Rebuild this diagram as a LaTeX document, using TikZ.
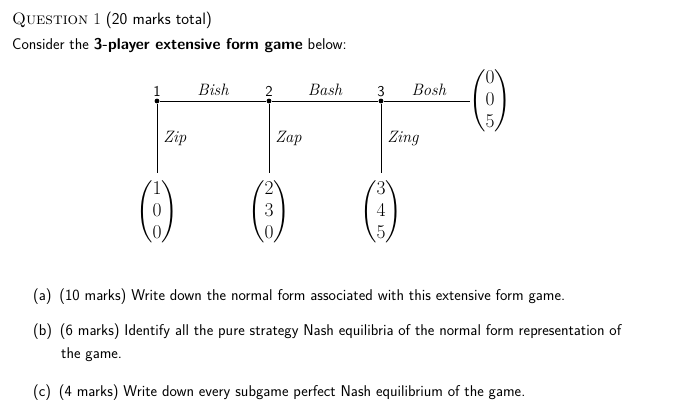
\RequirePackage{fix-cm}
\documentclass[tikz,border=0pt]{standalone}
\usepackage{amsmath}
\begin{document}
\begin{tikzpicture}[x=1pt,y=-1pt,
  dot/.style={circle,fill,inner sep=1.7pt},
  br/.style={font=\sffamily\fontsize{15}{17}\selectfont,inner sep=0pt},
  pay/.style={font=\fontsize{19.5}{22}\selectfont,inner sep=0pt},
  lab/.style={font=\fontsize{16.5}{18}\selectfont\itshape,inner sep=0pt},
  txt/.style={font=\sffamily\fontsize{15.6}{18}\selectfont,anchor=base west,inner sep=0pt}]
\useasboundingbox (0,0) rectangle (675,413);
\node[anchor=base west,inner sep=0pt,font=\fontsize{16.5}{18}\selectfont] (q) at (12,24) {\textsc{Question} 1 {\sffamily (20 marks total)}};
\node[txt] (c) at (12,49) {Consider the \textbf{3-player extensive form game} below:};
\node[dot] (n1) at (157,101) {};
\node[dot] (n2) at (269,101) {};
\node[dot] (n3) at (381,101) {};
\coordinate (e) at (470,101);
\node[br,above=4pt] at (n1) {1};
\node[br,above=4pt] at (n2) {2};
\node[br,above=4pt] at (n3) {3};
\node[pay] (p1) at (157,212) {$\begin{pmatrix}1\\0\\0\end{pmatrix}$};
\node[pay] (p2) at (269,212) {$\begin{pmatrix}2\\3\\0\end{pmatrix}$};
\node[pay] (p3) at (381,212) {$\begin{pmatrix}3\\4\\5\end{pmatrix}$};
\node[pay] (p4) at (490,101) {$\begin{pmatrix}0\\0\\5\end{pmatrix}$};
\draw[semithick] (n1) -- node[lab,above=5pt]{Bish} (n2) -- node[lab,above=5pt]{Bash} (n3) -- node[lab,above=5pt,xshift=2pt]{Bosh} (e);
\draw[semithick] (n1) -- node[lab,right=6pt]{Zip} (157,173);
\draw[semithick] (n2) -- node[lab,right=6pt]{Zap} (269,173);
\draw[semithick] (n3) -- node[lab,right=6pt]{Zing} (381,173);
\node[txt] (a) at (33,300) {(a)\hspace{0.5em}(10 marks) Write down the normal form associated with this extensive form game.};
\node[txt] (b) at (33,335) {(b)\hspace{0.5em}(6 marks) Identify all the pure strategy Nash equilibria of the normal form representation of};
\node[txt] (b2) at (61,358) {the game.};
\node[txt] (cc) at (33,396) {(c)\hspace{0.5em}(4 marks) Write down every subgame perfect Nash equilibrium of the game.};
\end{tikzpicture}
\end{document}
